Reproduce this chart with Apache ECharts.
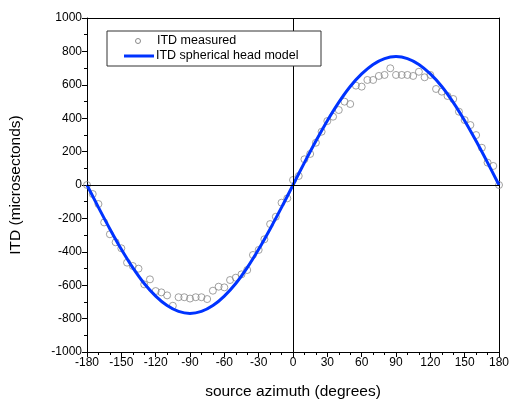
<!DOCTYPE html>
<html>
<head>
<meta charset="utf-8">
<script src="https://cdn.jsdelivr.net/npm/echarts@6/dist/echarts.min.js"></script>
<style>html,body{margin:0;padding:0;background:#fff}#c{width:511px;height:400px}</style>
</head>
<body>
<div id="c"></div>
<script>
const xTicks = [-180,-150,-120,-90,-60,-30,0,30,60,90,120,150,180];
const measuredAz = [-180,-175,-170,-165,-160,-155,-150,-145,-140,-135,-130,-125,-120,-115,-110,-105,-100,-95,-90,-85,-80,-75,-70,-65,-60,-55,-50,-45,-40,-35,-30,-25,-20,-15,-10,-5,0,5,10,15,20,25,30,35,40,45,50,55,60,65,70,75,80,85,90,95,100,105,110,115,120,125,130,135,140,145,150,155,160,165,170,175,180];
const measuredITD = [0,-54,-114,-224,-295,-343,-379,-465,-485,-501,-595,-565,-635,-643,-661,-723,-672,-672,-680,-672,-672,-683,-633,-609,-613,-569,-555,-535,-509,-419,-389,-325,-234,-190,-106,-80,30,54,154,186,253,319,383,409,449,499,485,595,589,629,629,653,659,699,659,659,659,653,678,645,659,575,559,533,515,439,389,359,299,223,134,114,0];
const modelAz = [-180,-170,-160,-150,-140,-130,-120,-110,-100,-90,-80,-70,-60,-50,-40,-30,-20,-10,0,10,20,30,40,50,60,70,80,90,100,110,120,130,140,150,160,170,180];
const modelITD = [0,-134,-263,-385,-495,-590,-665,-722,-757,-769,-757,-722,-665,-590,-495,-385,-263,-134,0,134,263,385,495,590,665,722,757,769,757,722,665,590,495,385,263,134,0];

const measured = measuredAz.map((a,i)=>[a, measuredITD[i]]);
const model = modelAz.map((a,i)=>[a, modelITD[i]]);

const chart = echarts.init(document.getElementById('c'), null, {renderer:'canvas'});
const font = 'Liberation Sans, Arial, sans-serif';
const axisLine = {show:true, onZero:false, lineStyle:{color:'#000', width:1}};
chart.setOption({
  animation:false,
  backgroundColor:'#fff',
  grid:{left:87, right:12, top:18, bottom:48, containLabel:false, outerBoundsMode:'none'},
  xAxis:[{
    type:'value', min:-180, max:180, interval:30,
    name:'source azimuth (degrees)', nameLocation:'middle', nameGap:32,
    nameTextStyle:{fontFamily:font, fontSize:15.5, color:'#000'},
    axisLine:axisLine,
    axisTick:{show:true, inside:false, length:5, lineStyle:{color:'#000'}},
    minorTick:{show:true, splitNumber:3, length:3, lineStyle:{color:'#000'}},
    axisLabel:{fontFamily:font, fontSize:12, color:'#000', margin:5,
      formatter:(v)=> xTicks.includes(v) ? String(v) : ''},
    splitLine:{show:false}
  },{
    type:'value', min:-180, max:180, position:'top',
    axisLine:axisLine, axisTick:{show:false}, axisLabel:{show:false}, splitLine:{show:false}
  }],
  yAxis:[{
    type:'value', min:-1000, max:1000, interval:200,
    name:'ITD (microsectonds)', nameLocation:'middle', nameGap:63,
    nameTextStyle:{fontFamily:font, fontSize:15.5, color:'#000'},
    axisLine:axisLine,
    axisTick:{show:true, inside:false, length:5, lineStyle:{color:'#000'}},
    minorTick:{show:true, splitNumber:2, length:3, lineStyle:{color:'#000'}},
    axisLabel:{fontFamily:font, fontSize:12, color:'#000', margin:5, formatter:(v)=>String(v)},
    splitLine:{show:false}
  },{
    type:'value', min:-1000, max:1000, position:'right',
    axisLine:axisLine, axisTick:{show:false}, axisLabel:{show:false}, splitLine:{show:false}
  }],
  series:[{
    name:'ITD measured', type:'scatter', data:measured,
    symbol:'circle', symbolSize:7,
    itemStyle:{color:'rgba(255,255,255,0)', borderColor:'#8a8a8a', borderWidth:1},
    z:2,
    markLine:{
      silent:true, symbol:'none', label:{show:false},
      lineStyle:{color:'#000', width:1, type:'solid'},
      data:[{xAxis:0},{yAxis:0}]
    }
  },{
    name:'ITD spherical head model', type:'line', data:model,
    smooth:0.35, showSymbol:false, symbol:'none',
    lineStyle:{color:'#0033ff', width:3},
    z:3
  }],
  graphic:[
    {type:'rect', shape:{x:107, y:31, width:214, height:35}, style:{fill:'#fff', stroke:'#333', lineWidth:1}, z:10},
    {type:'circle', shape:{cx:138, cy:41, r:2.5}, style:{fill:'#fff', stroke:'#8a8a8a', lineWidth:1}, z:11},
    {type:'text', x:157, y:41, style:{text:'ITD measured', fontFamily:font, fontSize:12.5, fill:'#000', verticalAlign:'middle'}, z:11},
    {type:'line', shape:{x1:124, y1:56, x2:154, y2:56}, style:{stroke:'#0033ff', lineWidth:3}, z:11},
    {type:'text', x:156, y:56, style:{text:'ITD spherical head model', fontFamily:font, fontSize:12.5, fill:'#000', verticalAlign:'middle'}, z:11}
  ]
});
</script>
</body>
</html>
